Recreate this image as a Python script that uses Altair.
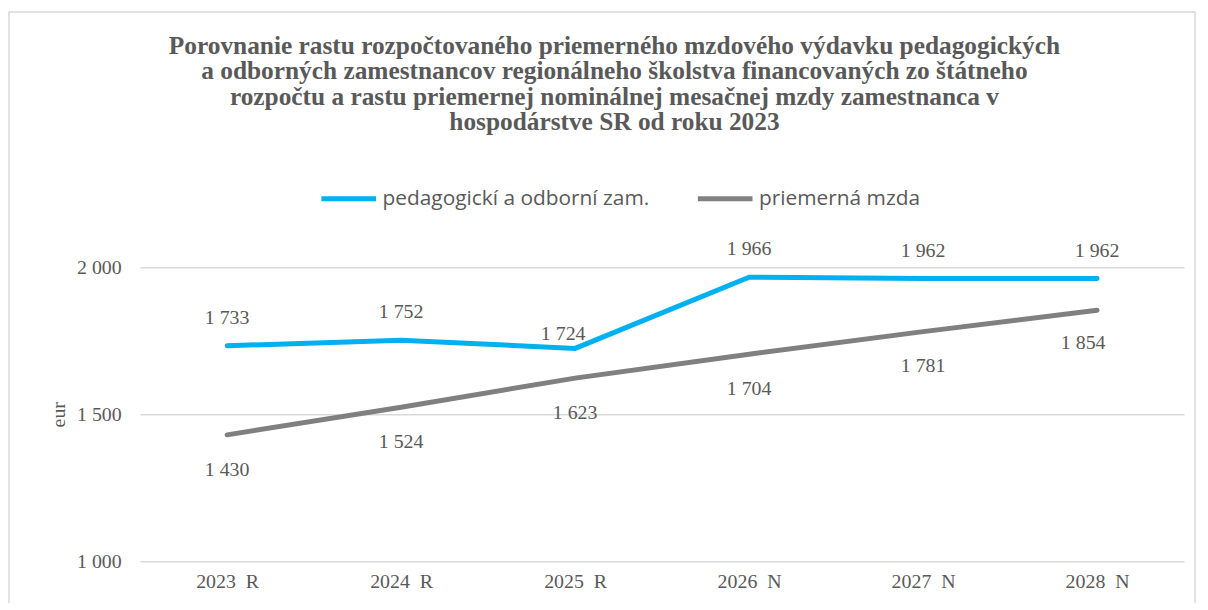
import altair as alt
import pandas as pd

categories = ["2023\u00a0\u00a0R", "2024\u00a0\u00a0R", "2025\u00a0\u00a0R",
              "2026\u00a0\u00a0N", "2027\u00a0\u00a0N", "2028\u00a0\u00a0N"]
series_names = ["pedagogickí a odborní zam.", "priemerná mzda"]
pedagogicki = [1733, 1752, 1724, 1966, 1962, 1962]
priemerna_mzda = [1430, 1524, 1623, 1704, 1781, 1854]
y_ticks = [1000, 1500, 2000]

title_lines = [
    "Porovnanie rastu rozpočtovaného priemerného mzdového výdavku pedagogických",
    "a odborných zamestnancov regionálneho školstva financovaných zo štátneho",
    "rozpočtu a rastu priemernej nominálnej mesačnej mzdy zamestnanca v",
    "hospodárstve SR od roku 2023",
]

rows = []
for c, v in zip(categories, pedagogicki):
    rows.append({"cat": c, "series": series_names[0], "value": v})
for c, v in zip(categories, priemerna_mzda):
    rows.append({"cat": c, "series": series_names[1], "value": v})
df = pd.DataFrame(rows)

TXT = "#595959"
SERIF = "Liberation Serif"

base = alt.Chart(df)

x = alt.X("cat:N", sort=categories, scale=alt.Scale(type="point", padding=0.5),
          axis=alt.Axis(title=None, labelAngle=0, domain=False, ticks=False, grid=False,
                        labelFont=SERIF, labelFontSize=20, labelColor=TXT, labelPadding=10))
y = alt.Y("value:Q", scale=alt.Scale(domain=[1000, 2000]),
          axis=alt.Axis(values=y_ticks, title="eur", domain=False, ticks=False,
                        grid=True, gridColor="#d9d9d9", gridWidth=1.5,
                        labelExpr="replace(format(datum.value, ','), ',', ' ')",
                        labelFont=SERIF, labelFontSize=20, labelColor=TXT, labelPadding=19,
                        titleFont=SERIF, titleFontSize=20, titleFontWeight="normal",
                        titleColor=TXT, titlePadding=8))
color = alt.Color("series:N", scale=alt.Scale(domain=series_names, range=["#00b0f0", "#808080"]),
                  legend=alt.Legend(orient="none", legendX=180, legendY=-99, direction="horizontal",
                                    title=None, symbolType="stroke", symbolSize=3025,
                                    symbolStrokeWidth=5, labelFont="Open Sans", labelFontSize=21,
                                    labelColor=TXT, columnPadding=38, labelOffset=4,
                                    labelLimit=400))

lines = base.mark_line(strokeWidth=5, strokeCap="round").encode(x=x, y=y, color=color)

label_expr = "replace(format(datum.value, ','), ',', ' ')"


def labels(series, cond, dx, dy):
    return base.transform_filter(alt.datum.series == series).transform_filter(cond).transform_calculate(
        label=label_expr).mark_text(font=SERIF, fontSize=20, color=TXT, dx=dx, dy=dy,
                                    baseline="middle").encode(
        x=alt.X("cat:N", sort=categories), y="value:Q", text="label:N")


lab_top = labels(series_names[0], alt.datum.cat != categories[2], 0, -28)
lab_top_special = labels(series_names[0], alt.datum.cat == categories[2], -12, -14)
lab_bot = labels(series_names[1], alt.datum.cat != categories[5], 0, 35)
lab_bot_special = labels(series_names[1], alt.datum.cat == categories[5], -14, 33)

frame = alt.Chart(pd.DataFrame({"a": [0]})).mark_rect(
    fill=None, stroke="#d9d9d9", strokeWidth=1.5).encode(
    x=alt.value(-132), x2=alt.value(1062), y=alt.value(-257), y2=alt.value(400))

chart = alt.layer(frame, lines, lab_top, lab_top_special, lab_bot, lab_bot_special).properties(
    width=1051, height=296,
    padding={"left": 133, "top": 259, "right": 16, "bottom": 40},
    autosize="none",
    title=alt.TitleParams(text=title_lines, font=SERIF, fontSize=25.5, fontWeight="bold",
                          color=TXT, anchor="middle", dx=-48, offset=-125, lineHeight=25.5),
).configure_view(stroke=None)

chart.save("out.html", embed_options={"renderer": "svg", "actions": False})
